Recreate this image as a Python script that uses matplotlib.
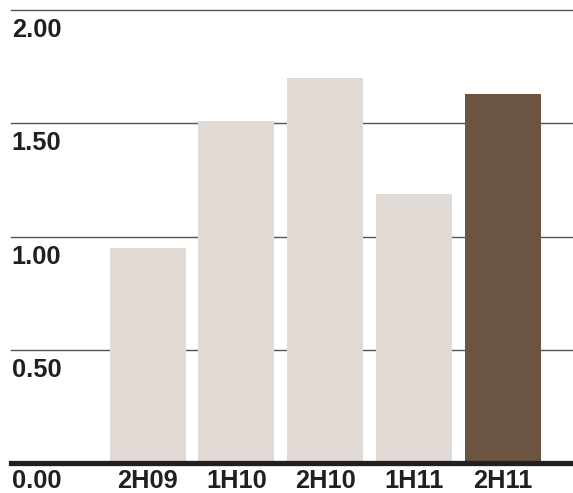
import matplotlib.pyplot as plt

periods = ["2H09", "1H10", "2H10", "1H11", "2H11"]
values = [0.95, 1.51, 1.70, 1.19, 1.63]
bar_colors = ["#e1d9d4", "#e1d9d4", "#e1d9d4", "#e1d9d4", "#6c5442"]
grid_values = [0.50, 1.00, 1.50, 2.00]
tick_labels = ["0.00", "0.50", "1.00", "1.50", "2.00"]

plt.rcParams["font.family"] = ["Liberation Sans", "DejaVu Sans"]
text_color = "#231f20"

fig = plt.figure(figsize=(5.73, 4.93), dpi=100)
ax = fig.add_axes([0, 0, 1, 1])
ax.set_xlim(-1.662, 4.791)
ax.set_ylim(-0.131, 2.044)
ax.axis("off")

x = range(len(periods))
ax.bar(x, values, width=0.856, color=bar_colors, zorder=3)

left = 11 / 573
for v in grid_values:
    ax.axhline(v, xmin=left, xmax=1, color="#555555", linewidth=1.0, zorder=1)
ax.axhline(0, xmin=left, xmax=1, color="#231f20", linewidth=3.8, zorder=4)

# labels sit just under their gridline; the bottom row a bit higher so it fits
offset = 0.088
bottom_offset = 0.079
for label in tick_labels:
    v = float(label)
    y = -bottom_offset if v == 0 else v - offset
    ax.text(-1.53, y, label, ha="left", va="center",
            fontsize=18.3, fontweight="bold", color=text_color)
for i, p in enumerate(periods):
    ax.text(i, -bottom_offset, p, ha="center", va="center",
            fontsize=18.3, fontweight="bold", color=text_color)

fig.savefig("out.png", dpi=100)
